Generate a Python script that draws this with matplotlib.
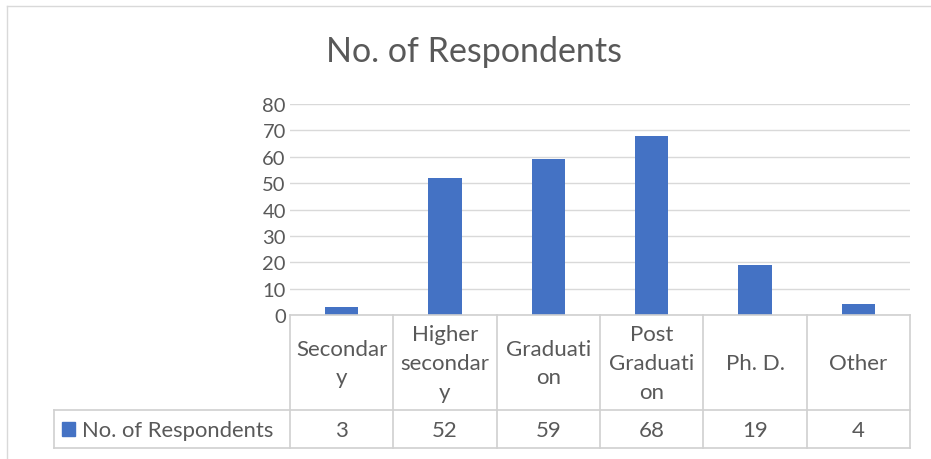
import matplotlib
matplotlib.use("Agg")
import matplotlib.pyplot as plt
import matplotlib.transforms as mtransforms
from matplotlib.lines import Line2D
from matplotlib.patches import Rectangle

categories = ["Secondar\ny", "Higher\nsecondar\ny", "Graduati\non", "Post\nGraduati\non", "Ph. D.", "Other"]
values = [3, 52, 59, 68, 19, 4]
series_name = "No. of Respondents"
title = "No. of Respondents"
yticks = [0, 10, 20, 30, 40, 50, 60, 70, 80]

W, H = 931, 460
BAR = "#4472C4"
GRID = "#D9D9D9"
TXT = "#595959"
FONT = ["Lato", "DejaVu Sans"]
plt.rcParams["font.family"] = FONT

fig = plt.figure(figsize=(W / 100, H / 100), dpi=100)

def fx(px):
    return px / W

def fy(py):
    return 1 - py / H

# outer chart border
fig.add_artist(Line2D([fx(7), fx(7)], [fy(7), fy(470)], color=GRID, lw=1.0, transform=fig.transFigure))
fig.add_artist(Line2D([fx(7), fx(935)], [fy(7), fy(7)], color=GRID, lw=1.0, transform=fig.transFigure))

left, right, top, bottom = 290, 910, 105, 316
ax = fig.add_axes([fx(left), fy(bottom), fx(right) - fx(left), fy(top) - fy(bottom)])
x = list(range(len(values)))
ax.bar(x, values, width=0.32, color=BAR, zorder=3)
ax.set_xlim(-0.5, len(values) - 0.5)
ax.set_ylim(0, 80)
ax.set_yticks(yticks)
ax.set_yticklabels([str(t) for t in yticks], fontsize=14.5, color=TXT)
ax.tick_params(axis="y", length=0, pad=3)
ax.set_xticks([])
ax.grid(axis="y", color=GRID, lw=1.0, zorder=0)
for s in ax.spines.values():
    s.set_visible(False)

fig.text(fx(474), fy(52), title, ha="center", va="center", fontsize=24.5, color=TXT)

# data table
bt = mtransforms.blended_transform_factory(ax.transData, fig.transFigure)
row1_top, row1_bot, row2_bot = 316, 411, 449
lc = "#D0D0D0"
for b in [i - 0.5 for i in range(len(values) + 1)]:
    fig.add_artist(Line2D([b, b], [fy(row1_top), fy(row2_bot)], color=lc, lw=1.2, transform=bt))
fig.add_artist(Line2D([fx(left), fx(right)], [fy(row1_top), fy(row1_top)], color=lc, lw=1.2, transform=fig.transFigure))
fig.add_artist(Line2D([fx(54), fx(right)], [fy(row1_bot), fy(row1_bot)], color=lc, lw=1.2, transform=fig.transFigure))
fig.add_artist(Line2D([fx(54), fx(right)], [fy(row2_bot), fy(row2_bot)], color=lc, lw=1.2, transform=fig.transFigure))
fig.add_artist(Line2D([fx(54), fx(54)], [fy(row1_bot), fy(row2_bot)], color=lc, lw=1.2, transform=fig.transFigure))

for i, (c, v) in enumerate(zip(categories, values)):
    fig.text(i, fy(364), c, transform=bt, ha="center", va="center", fontsize=16, color=TXT, linespacing=1.55)
    fig.text(i, fy(431), str(v), transform=bt, ha="center", va="center", fontsize=16, color=TXT)

fig.add_artist(Rectangle((fx(62), fy(437)), fx(13), fy(423) - fy(437), color=BAR, transform=fig.transFigure))
fig.text(fx(82), fy(431), series_name, ha="left", va="center", fontsize=15.8, color=TXT)

fig.savefig("out.png", dpi=100, facecolor="white")
